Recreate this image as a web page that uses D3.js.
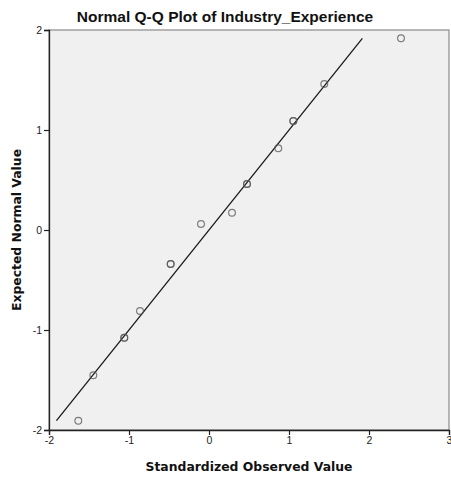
<!DOCTYPE html>
<html><head><meta charset="utf-8">
<script src="https://cdn.jsdelivr.net/npm/d3@7"></script>
<style>body{margin:0;background:#fff}svg{display:block}</style>
</head><body>
<script>
const observed = [-1.634, -1.446, -1.059, -0.8625, -0.479, -0.10, 0.2875, 0.475, 0.866, 1.054, 1.441, 2.40];
const expected = [-1.907, -1.453, -1.077, -0.81, -0.34, 0.06, 0.173, 0.46, 0.817, 1.09, 1.46, 1.917];
const counts   = [1, 1, 2, 1, 2, 1, 1, 2, 1, 2, 1, 1];
const xTicks = [-2, -1, 0, 1, 2, 3];
const yTicks = [-2, -1, 0, 1, 2];
const title = "Normal Q-Q Plot of Industry_Experience";
const xLabel = "Standardized Observed Value";
const yLabel = "Expected Normal Value";

const W = 451, H = 479;
const m = {l: 49, r: 2, t: 30, b: 49};
const svg = d3.select("body").append("svg").attr("width", W).attr("height", H);
const x = d3.scaleLinear().domain([-2, 3]).range([m.l, W - m.r]);
const y = d3.scaleLinear().domain([-2, 2]).range([H - m.b, m.t]);

svg.append("rect").attr("x", m.l).attr("y", m.t)
  .attr("width", x(3) - m.l).attr("height", y(-2) - m.t)
  .attr("fill", "#f0f0f0").attr("stroke", "#8a8a8a").attr("stroke-width", 1.2);

const font = "Arial, 'Liberation Sans', sans-serif";
const labFont = "'DejaVu Sans', Verdana, sans-serif";
const fmt = d => String(d);
const xAxis = svg.append("g").attr("transform", `translate(0,${y(-2)})`)
  .call(d3.axisBottom(x).tickValues(xTicks).tickFormat(fmt).tickSize(5).tickPadding(2));
const yAxis = svg.append("g").attr("transform", `translate(${m.l},0)`)
  .call(d3.axisLeft(y).tickValues(yTicks).tickFormat(fmt).tickSize(5).tickPadding(2));
[xAxis, yAxis].forEach(a => {
  a.select(".domain").attr("stroke", "#222").attr("stroke-width", 1.3);
  a.selectAll(".tick line").attr("stroke", "#222").attr("stroke-width", 1.2);
  a.selectAll("text").attr("font-family", font).attr("font-size", 10.5).attr("fill", "#222");
});

// reference line
const lo = d3.min(expected), hi = d3.max(expected);
svg.append("line").attr("x1", x(lo)).attr("y1", y(lo)).attr("x2", x(hi)).attr("y2", y(hi))
  .attr("stroke", "#1a1a1a").attr("stroke-width", 1.3);

// points
const pts = [];
observed.forEach((v, i) => { for (let k = 0; k < counts[i]; k++) pts.push({x: v, y: expected[i]}); });
svg.append("g").selectAll("circle").data(pts).join("circle")
  .attr("cx", d => x(d.x)).attr("cy", d => y(d.y)).attr("r", 3.4)
  .attr("fill", "none").attr("stroke", "#555").attr("stroke-opacity", 0.75).attr("stroke-width", 1.2);

svg.append("text").attr("x", 225).attr("y", 22).attr("text-anchor", "middle")
  .attr("font-family", font).attr("font-weight", "bold").attr("font-size", 15.5).attr("fill", "#111").text(title);
svg.append("text").attr("x", (m.l + W - m.r) / 2).attr("y", 471).attr("text-anchor", "middle")
  .attr("font-family", labFont).attr("font-weight", "bold").attr("font-size", 12.4).attr("fill", "#111").text(xLabel);
svg.append("text").attr("transform", `translate(21,${(m.t + H - m.b) / 2}) rotate(-90)`).attr("text-anchor", "middle")
  .attr("font-family", labFont).attr("font-weight", "bold").attr("font-size", 12.4).attr("fill", "#111").text(yLabel);
</script>
</body></html>
